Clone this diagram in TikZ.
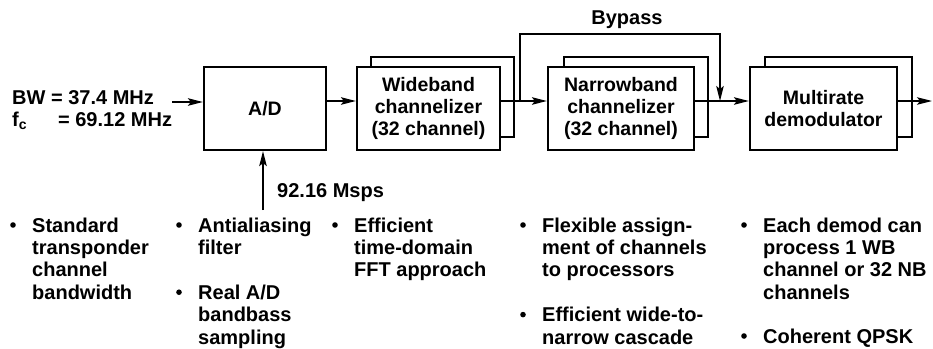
\documentclass[tikz,border=0pt]{standalone}
\usepackage{fontspec}
\setmainfont{Liberation Sans}
\usetikzlibrary{arrows.meta,calc}
\newcommand\stackl[1]{\begin{tabular}[t]{@{}l@{}}#1\end{tabular}}
\newcommand\itemfont{\fontsize{20}{22.4}\selectfont\bfseries}
\newcommand\boxfont{\fontsize{19.5}{22}\selectfont\bfseries}
\tikzset{
  frontbox/.style={draw, line width=2.2pt, fill=white, inner sep=0pt, align=center, font=\boxfont},
  backbox/.style={draw, line width=2pt, fill=white, inner sep=0pt},
  arr/.style={line width=1.5pt, -{Stealth[length=15pt,width=7.5pt,inset=3pt]}},
  itemtext/.style={anchor=base west, inner sep=0pt, font=\itemfont},
  dot/.style={fill=black},
}
\begin{document}
\begin{tikzpicture}[x=1pt,y=-1pt]
\useasboundingbox (0,0) rectangle (933,348);
% back boxes
\node[backbox, minimum width=143pt, minimum height=80pt] (wbb) at (442.5,97) {};
\node[backbox, minimum width=144pt, minimum height=80pt] (nbb) at (636,97) {};
\node[backbox, minimum width=147pt, minimum height=80pt] (mrb) at (838.5,97) {};
% front boxes
\node[frontbox, minimum width=122pt, minimum height=83pt] (ad) at (265,108.5) {A/D};
\node[frontbox, minimum width=143pt, minimum height=83pt] (wb) at (428.5,108.5) {Wideband\\channelizer\\(32 channel)};
\node[frontbox, minimum width=146pt, minimum height=83pt] (nb) at (621,108.5) {Narrowband\\channelizer\\(32 channel)};
\node[frontbox, minimum width=147pt, minimum height=83pt] (mr) at (823.5,108.5) {Multirate\\demodulator};
% level of the signal path
\coordinate (lvl) at (0,101);
\coordinate (inarr) at (172,102);
\coordinate (outc) at (932,101);
\coordinate (bypS) at (520,101);
\coordinate (bypT) at (620,34);
\coordinate (bypE) at (720,101);
\coordinate (samp) at (263,210);
% input text
\node[anchor=base west, inner sep=0pt, font=\itemfont] (inp) at (12,104)
  {\stackl{BW = 37.4 MHz\\f\textsubscript{c}\hspace{31pt}= 69.12 MHz}};
% connectors
\draw[arr] (inarr) -- (inarr -| ad.west);
\draw[arr] (ad.east |- lvl) -- (wb.west |- lvl);
\draw[arr] (wb.east |- lvl) -- (nb.west |- lvl);
\draw[arr] (nb.east |- lvl) -- (mr.west |- lvl);
\draw[arr] (mr.east |- lvl) -- (outc);
\draw[arr] (bypS) |- (bypT) -| (bypE);
\node[anchor=base, inner sep=0pt, font=\itemfont] (byp) at (627,24) {Bypass};
\draw[arr] (samp) -- (samp |- ad.south);
\node[anchor=base west, inner sep=0pt, font=\itemfont] (rate) at (277,197) {92.16 Msps};
% bullet items
\node[itemtext] (c1) at (32,232) {\stackl{Standard\\transponder\\channel\\bandwidth}};
\node[itemtext] (c2a) at (198,232) {\stackl{Antialiasing\\filter}};
\node[itemtext] (c2b) at (198,299.2) {\stackl{Real A/D\\bandbass\\sampling}};
\node[itemtext] (c3) at (354,232) {\stackl{Efficient\\time-domain\\FFT approach}};
\node[itemtext] (c4a) at (542,232) {\stackl{Flexible assign-\\ment of channels\\to processors}};
\node[itemtext] (c4b) at (542,321.6) {\stackl{Efficient wide-to-\\narrow cascade}};
\node[itemtext] (c5a) at (763,232) {\stackl{Each demod can\\process 1 WB\\channel or 32 NB\\channels}};
\node[itemtext] (c5b) at (763,343) {\stackl{Coherent QPSK}};
% bullets
\foreach \n in {c1,c2a,c2b,c3,c4a,c4b,c5a,c5b}{
  \fill[dot] ($(\n.base west)+(-19,-7)$) circle (2.8pt);
}
\end{tikzpicture}
\end{document}
